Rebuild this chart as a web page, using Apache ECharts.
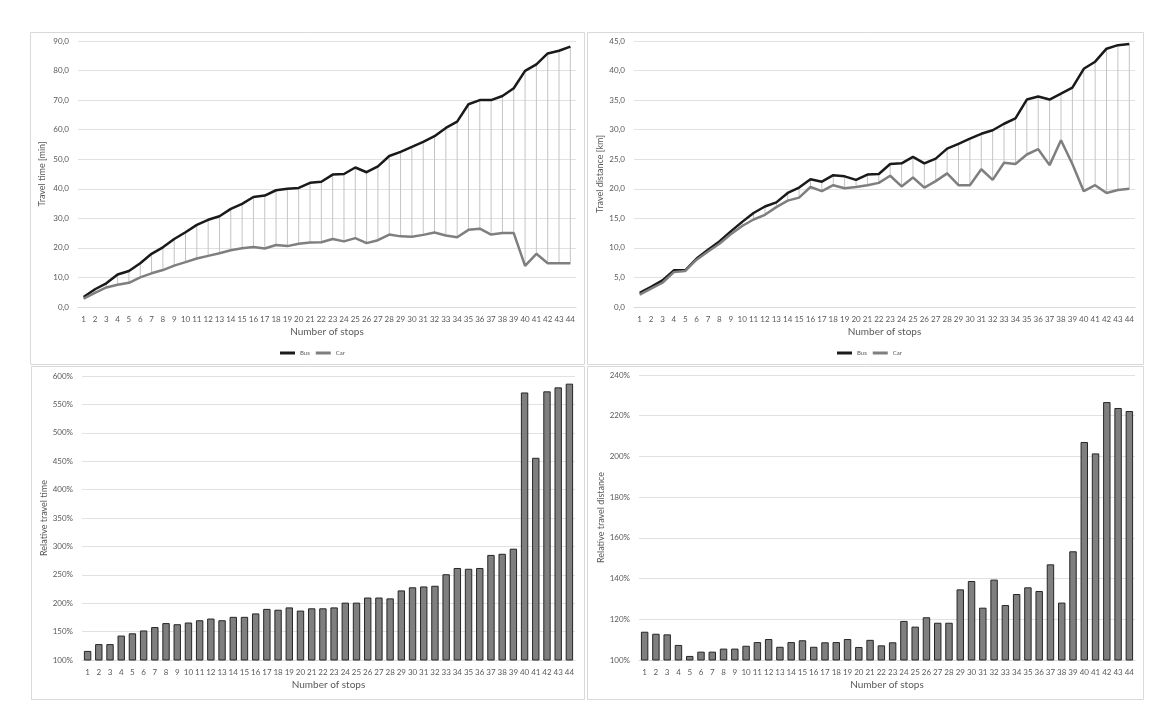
<!DOCTYPE html>
<html>
<head>
<meta charset="utf-8">
<title>Bus vs car travel</title>
<script src="https://cdn.jsdelivr.net/npm/echarts@6/dist/echarts.min.js"></script>
<style>
html,body{margin:0;padding:0;background:#fff;}
#chart{width:1172px;height:719px;}
</style>
</head>
<body>
<div id="chart"></div>
<script>
// number of stops on the x axis
var stops = ['1','2','3','4','5','6','7','8','9','10','11','12','13','14','15','16','17','18','19','20','21','22',
             '23','24','25','26','27','28','29','30','31','32','33','34','35','36','37','38','39','40','41','42','43','44'];

// travel time [min]
var busTime = [3.4, 6.0, 8.0, 11.0, 12.2, 14.8, 18.0, 20.2, 23.0, 25.3, 27.8, 29.5, 30.7, 33.2, 34.9, 37.2, 37.7, 39.5, 40.0, 40.3, 42.0, 42.4,
               44.8, 45.0, 47.2, 45.6, 47.6, 51.1, 52.5, 54.2, 55.9, 57.8, 60.6, 62.7, 68.6, 70.0, 70.0, 71.4, 74.0, 79.9, 82.1, 85.8, 86.7, 88.1];
var carTime = [2.8, 4.8, 6.6, 7.5, 8.2, 10.0, 11.4, 12.5, 14.0, 15.2, 16.4, 17.3, 18.2, 19.2, 19.9, 20.3, 19.8, 21.0, 20.6, 21.4, 21.8, 21.9,
               23.0, 22.2, 23.3, 21.6, 22.6, 24.5, 23.9, 23.8, 24.4, 25.2, 24.2, 23.6, 26.1, 26.5, 24.5, 25.0, 25.0, 13.9, 18.0, 14.8, 14.8, 14.8];

// travel distance [km]
var busDist = [2.4, 3.4, 4.5, 6.2, 6.2, 8.2, 9.7, 11.1, 12.8, 14.4, 15.9, 17.0, 17.7, 19.3, 20.2, 21.6, 21.2, 22.3, 22.1, 21.5, 22.4, 22.5,
               24.2, 24.3, 25.4, 24.3, 25.1, 26.8, 27.6, 28.5, 29.3, 29.9, 31.0, 31.9, 35.1, 35.6, 35.1, 36.1, 37.1, 40.3, 41.5, 43.7, 44.3, 44.5];
var carDist = [2.1, 3.1, 4.1, 5.9, 6.1, 8.0, 9.4, 10.7, 12.3, 13.7, 14.8, 15.6, 16.9, 18.0, 18.5, 20.3, 19.6, 20.6, 20.1, 20.3, 20.6, 21.0,
               22.2, 20.4, 21.9, 20.2, 21.3, 22.6, 20.6, 20.6, 23.3, 21.5, 24.4, 24.2, 25.8, 26.7, 24.0, 28.2, 24.2, 19.6, 20.6, 19.3, 19.8, 20.0];

// relative travel time / distance [%]
var relTime = [116, 128, 128, 143, 147, 152, 158, 165, 163, 166, 170, 173, 170, 176, 176, 182, 190, 188.5, 192.6, 187, 191, 191,
               192.6, 201, 201, 210, 210, 208.5, 222.5, 228, 229.5, 230.7, 251, 262, 260.6, 262, 285, 287, 296, 571, 456, 573, 580, 586.5];
var relDist = [113.9, 112.9, 112.6, 107.4, 102, 104.1, 104.1, 105.6, 105.6, 107, 108.8, 110.3, 106.5, 108.8, 109.7, 106.5, 108.7, 108.8, 110.3, 106.4, 109.9, 107.2,
               108.7, 119.2, 116.4, 121, 118.3, 118.3, 134.7, 138.8, 125.7, 139.5, 127, 132.4, 135.7, 133.9, 147, 128.2, 153.4, 207.1, 201.5, 226.7, 223.8, 222.3];

var myChart = echarts.init(document.getElementById('chart'));

var fontFam = 'Lato, "Noto Sans", sans-serif';
var txtColor = '#595959';
var gridColor = '#e1e1e1';

function comma(v){
    return v.toFixed(1).replace('.', ',');
}
function pct(v){
    return v + '%';
}

function makeX(idx){
    return {
        type:'category',
        gridIndex:idx,
        data:stops,
        boundaryGap:true,
        axisTick:{show:false},
        axisLine:{lineStyle:{color:'#d9d9d9', width:1}},
        axisLabel:{color:txtColor, fontSize:8, fontFamily:fontFam, margin:8, interval:0},
        name:'Number of stops',
        nameLocation:'middle',
        nameGap:20,
        nameTextStyle:{color:txtColor, fontSize:10, fontFamily:fontFam},
    };
}
function makeY(idx, name, min, max, step, fmt, gap){
    return {
        type:'value',
        gridIndex:idx,
        min:min,
        max:max,
        interval:step,
        axisLine:{show:false},
        axisTick:{show:false},
        splitLine:{lineStyle:{color:gridColor, width:1}},
        axisLabel:{color:txtColor, fontSize:8, fontFamily:fontFam, margin:9, formatter:fmt},
        name:name,
        nameLocation:'middle',
        nameRotate:90,
        nameGap:gap,
        nameTextStyle:{color:txtColor, fontSize:9, fontFamily:fontFam},
    };
}

// thin grey high-low lines between car and bus
function dropLines(bus, car, idx){
    return {
        type:'custom',
        xAxisIndex:idx,
        yAxisIndex:idx,
        silent:true,
        z:1,
        data:bus.map(function(b, i){ return [i, car[i], b]; }),
        encode:{x:0, y:[1, 2]},
        renderItem:function(params, api){
            var p1 = api.coord([api.value(0), api.value(1)]);
            var p2 = api.coord([api.value(0), api.value(2)]);
            return {
                type:'line',
                shape:{x1:p1[0], y1:p1[1], x2:p2[0], y2:p2[1]},
                style:{stroke:'#c4c4c4', lineWidth:1}
            };
        }
    };
}
function lineSerie(name, data, idx, color){
    return {
        name:name,
        type:'line',
        xAxisIndex:idx,
        yAxisIndex:idx,
        data:data,
        showSymbol:false,
        symbol:'none',
        z:3,
        color:color,
        lineStyle:{color:color, width:2.5},
    };
}
function barSerie(data, idx){
    return {
        type:'bar',
        xAxisIndex:idx,
        yAxisIndex:idx,
        data:data,
        barCategoryGap:'34%',
        itemStyle:{color:'#7f7f7f', borderColor:'#262626', borderWidth:1},
    };
}

function panel(x, y, w, h){
    return {
        type:'rect',
        shape:{x:x + 0.5, y:y + 0.5, width:w, height:h},
        style:{fill:null, stroke:'#d9d9d9', lineWidth:1},
        silent:true,
    };
}

var legendBase = {
    data:['Bus', 'Car'],
    icon:'rect',
    itemWidth:15,
    itemHeight:3,
    itemGap:6,
    padding:0,
    textStyle:{color:txtColor, fontSize:6, fontFamily:fontFam},
};

var option = {
    backgroundColor:'#fff',
    animation:false,
    graphic:[
        panel(30, 32, 554, 332),
        panel(587, 32, 556, 332),
        panel(31, 366, 553, 333),
        panel(587, 366, 556, 333),
    ],
    legend:[
        Object.assign({left:280, top:350}, legendBase),
        Object.assign({left:837, top:350}, legendBase),
    ],
    grid:[
        {left:78, right:596, top:41, bottom:412},
        {left:634, right:37, top:41, bottom:412},
        {left:82, right:597, top:376, bottom:59},
        {left:639, right:37, top:375, bottom:59},
    ],
    xAxis:[makeX(0), makeX(1), makeX(2), makeX(3)],
    yAxis:[
        makeY(0, 'Travel time [min]', 0, 90, 10, comma, 31),
        makeY(1, 'Travel distance [km]', 0, 45, 5, comma, 29),
        makeY(2, 'Relative travel time', 100, 600, 50, pct, 33),
        makeY(3, 'Relative travel distance', 100, 240, 20, pct, 33),
    ],
    series:[
        dropLines(busTime, carTime, 0),
        lineSerie('Bus', busTime, 0, '#1a1a1a'),
        lineSerie('Car', carTime, 0, '#7f7f7f'),
        dropLines(busDist, carDist, 1),
        lineSerie('Bus', busDist, 1, '#1a1a1a'),
        lineSerie('Car', carDist, 1, '#7f7f7f'),
        barSerie(relTime, 2),
        barSerie(relDist, 3),
    ]
};

myChart.setOption(option);
window.onresize = myChart.resize;
</script>
</body>
</html>
